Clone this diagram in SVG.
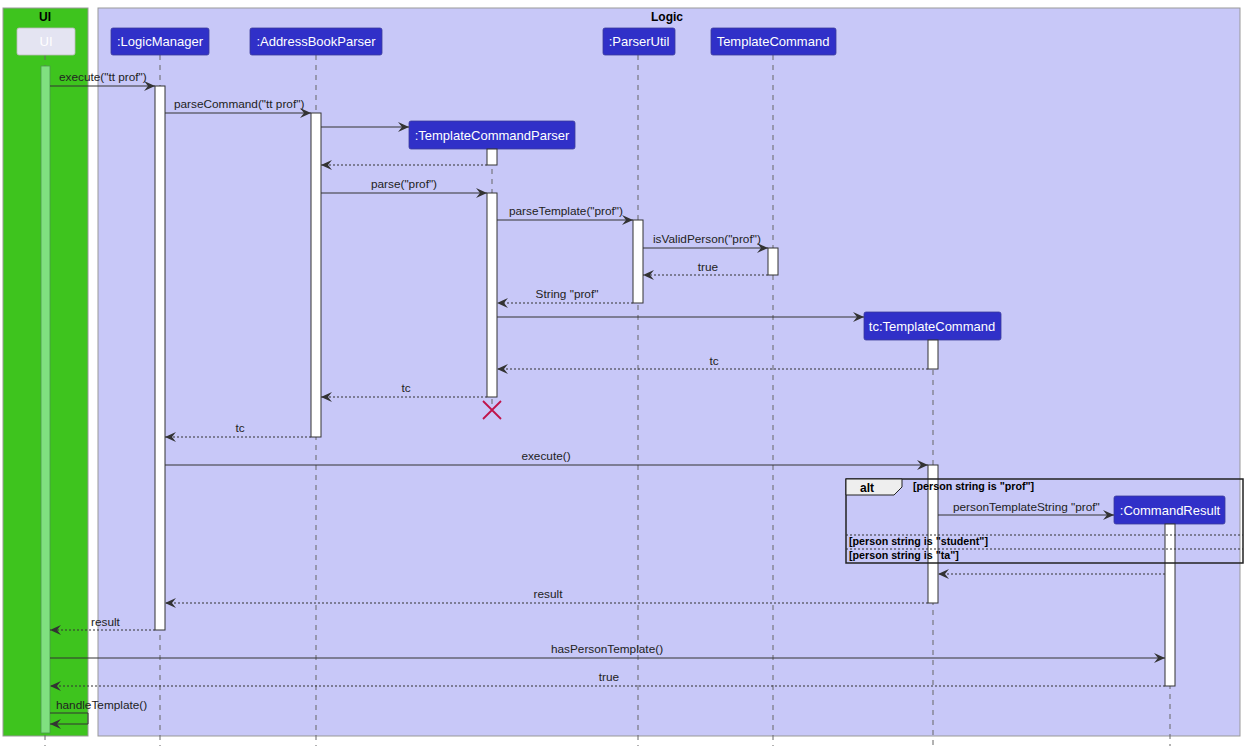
<svg xmlns="http://www.w3.org/2000/svg" width="1244" height="746" viewBox="0 0 1244 746">
<defs>
<style>
text{font-family:"Liberation Sans",Arial,sans-serif;}
.msg{font-size:11.8px;fill:#222;}
.pt{font-size:13px;fill:#fff;}
.ttl{font-size:12px;font-weight:bold;fill:#000;}
.grd{font-size:10.7px;font-weight:bold;fill:#000;}
.part{fill:#3030c8;stroke:#3a3a9a;stroke-width:0.8;}
.life{stroke:#666;stroke-width:1;stroke-dasharray:5,5;fill:none;}
.act{fill:#fff;stroke:#333;stroke-width:1;}
.call{stroke:#333;stroke-width:1;fill:none;marker-end:url(#ah);}
.ret{stroke:#333;stroke-width:1;fill:none;stroke-dasharray:2,2;marker-end:url(#ah);}
</style>
<marker id="ah" markerUnits="userSpaceOnUse" markerWidth="12" markerHeight="10" viewBox="0 0 12 10" refX="11" refY="5" orient="auto">
<path d="M0,0 L11,5 L0,10 L4,5 Z" fill="#333"/>
</marker>
</defs>
<rect width="1244" height="746" fill="#fff"/>
<g id="frames">
<rect x="3" y="8" width="85" height="728" fill="#3ec41e" stroke="#999" stroke-width="1"/>
<text x="45" y="21" text-anchor="middle" class="ttl">UI</text>
<rect x="98" y="8" width="1142" height="728" fill="#c8c8f8" stroke="#999" stroke-width="1"/>
<text x="667" y="21" text-anchor="middle" class="ttl">Logic</text>
</g>
<g id="lifelines">
<line class="life" x1="45" y1="55" x2="45" y2="746"/>
<line class="life" x1="160" y1="55" x2="160" y2="746"/>
<line class="life" x1="316" y1="55" x2="316" y2="746"/>
<line class="life" x1="492" y1="149" x2="492" y2="410"/>
<line class="life" x1="638" y1="55" x2="638" y2="746"/>
<line class="life" x1="773" y1="55" x2="773" y2="746"/>
<line class="life" x1="933" y1="340" x2="933" y2="746"/>
<line class="life" x1="1170" y1="524" x2="1170" y2="746"/>
</g>
<g id="ui">
<rect x="17" y="28" width="58" height="27" rx="2" fill="#e4e4f2" stroke="#bbb" stroke-width="0.8"/>
<text x="46" y="46" text-anchor="middle" class="pt">UI</text>
</g>
<g id="logicManager">
<rect class="part" x="111" y="28" width="98" height="27" rx="2"/>
<text x="160" y="46" text-anchor="middle" class="pt">:LogicManager</text>
</g>
<g id="addressBookParser">
<rect class="part" x="250" y="28" width="132" height="27" rx="2"/>
<text x="316" y="46" text-anchor="middle" class="pt">:AddressBookParser</text>
</g>
<g id="parserUtil">
<rect class="part" x="603" y="28" width="72" height="27" rx="2"/>
<text x="639" y="46" text-anchor="middle" class="pt">:ParserUtil</text>
</g>
<g id="templateCommand">
<rect class="part" x="711" y="28" width="125" height="27" rx="2"/>
<text x="773" y="46" text-anchor="middle" class="pt">TemplateCommand</text>
</g>
<g id="templateCommandParser">
<rect class="part" x="409" y="121" width="166" height="28" rx="2"/>
<text x="492" y="140" text-anchor="middle" class="pt">:TemplateCommandParser</text>
</g>
<g id="tcTemplateCommand">
<rect class="part" x="864" y="312" width="137" height="28" rx="2"/>
<text x="932" y="331" text-anchor="middle" class="pt">tc:TemplateCommand</text>
</g>
<g id="commandResult">
<rect class="part" x="1114" y="496" width="111" height="28" rx="2"/>
<text x="1170" y="515" text-anchor="middle" class="pt">:CommandResult</text>
</g>
<g id="activations">
<rect x="41" y="66" width="9" height="667" fill="#80e080" stroke="#4a9a4a" stroke-width="0.8"/>
<rect class="act" x="155" y="86" width="10" height="544"/>
<rect class="act" x="311" y="113" width="10" height="324"/>
<rect class="act" x="487" y="149" width="10" height="16"/>
<rect class="act" x="487" y="193" width="10" height="204"/>
<rect class="act" x="633" y="220" width="10" height="83"/>
<rect class="act" x="768" y="248" width="10" height="27"/>
<rect class="act" x="928" y="340" width="10" height="29"/>
<rect class="act" x="928" y="465" width="10" height="138"/>
<rect class="act" x="1165" y="524" width="10" height="162"/>
</g>
<g id="alt">
<rect x="846" y="479" width="397" height="84" fill="none" stroke="#222" stroke-width="1.5"/>
<path d="M846,479 H902 V487 L894,495 H846 Z" fill="#eee" stroke="#222" stroke-width="1"/>
<text x="867" y="492" text-anchor="middle" class="grd" style="font-size:12px">alt</text>
<text x="913" y="490" class="grd">[person string is "prof"]</text>
<line x1="846" y1="535" x2="1243" y2="535" stroke="#333" stroke-width="1" stroke-dasharray="2,2"/>
<text x="849" y="545" class="grd">[person string is "student"]</text>
<line x1="846" y1="549" x2="1243" y2="549" stroke="#333" stroke-width="1" stroke-dasharray="2,2"/>
<text x="849" y="559" class="grd">[person string is "ta"]</text>
</g>
<g id="connectors">
<line class="call" x1="50" y1="86" x2="155" y2="86"/>
<text class="msg" x="59" y="81">execute("tt prof")</text>
<line class="call" x1="165" y1="113" x2="311" y2="113"/>
<text class="msg" x="174" y="108">parseCommand("tt prof")</text>
<line class="call" x1="321" y1="127" x2="409" y2="127"/>
<line class="ret" x1="487" y1="165" x2="321" y2="165"/>
<line class="call" x1="321" y1="193" x2="487" y2="193"/>
<text class="msg" x="404" y="188" text-anchor="middle">parse("prof")</text>
<line class="call" x1="497" y1="220" x2="633" y2="220"/>
<text class="msg" x="509" y="215">parseTemplate("prof")</text>
<line class="call" x1="643" y1="248" x2="768" y2="248"/>
<text class="msg" x="653" y="243">isValidPerson("prof")</text>
<line class="ret" x1="768" y1="275" x2="643" y2="275"/>
<text class="msg" x="708" y="271" text-anchor="middle">true</text>
<line class="ret" x1="633" y1="303" x2="497" y2="303"/>
<text class="msg" x="567" y="298" text-anchor="middle">String "prof"</text>
<line class="call" x1="497" y1="317" x2="864" y2="317"/>
<line class="ret" x1="928" y1="369" x2="497" y2="369"/>
<text class="msg" x="714" y="365" text-anchor="middle">tc</text>
<line class="ret" x1="487" y1="397" x2="321" y2="397"/>
<text class="msg" x="406" y="392" text-anchor="middle">tc</text>
<path d="M483,401 L501,419 M501,401 L483,419" stroke="#c0144a" stroke-width="1.8" fill="none"/>
<line class="ret" x1="311" y1="437" x2="165" y2="437"/>
<text class="msg" x="240" y="432" text-anchor="middle">tc</text>
<line class="call" x1="165" y1="465" x2="928" y2="465"/>
<text class="msg" x="546" y="460" text-anchor="middle">execute()</text>
<line class="call" x1="938" y1="515" x2="1114" y2="515"/>
<text class="msg" x="953" y="511">personTemplateString "prof"</text>
<line class="ret" x1="1165" y1="574" x2="938" y2="574"/>
<line class="ret" x1="928" y1="603" x2="165" y2="603"/>
<text class="msg" x="548" y="598" text-anchor="middle">result</text>
<line class="ret" x1="155" y1="630" x2="50" y2="630"/>
<text class="msg" x="91" y="626">result</text>
<line class="call" x1="50" y1="658" x2="1165" y2="658"/>
<text class="msg" x="607" y="653" text-anchor="middle">hasPersonTemplate()</text>
<line class="ret" x1="1165" y1="686" x2="50" y2="686"/>
<text class="msg" x="609" y="681" text-anchor="middle">true</text>
<path class="call" d="M50,713 H88 V724 H50"/>
<text class="msg" x="56" y="709">handleTemplate()</text>
</g>
</svg>
